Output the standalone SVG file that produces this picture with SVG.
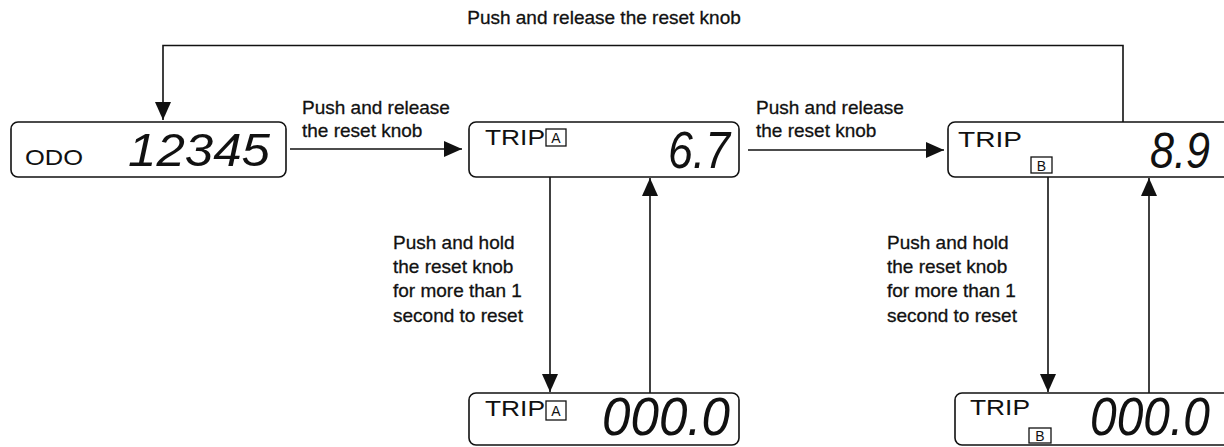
<svg xmlns="http://www.w3.org/2000/svg" width="1224" height="447" viewBox="0 0 1224 447">
<style>
.box{fill:#fff;stroke:#111;stroke-width:1.6}
.lbl{font-family:"Liberation Sans",Arial,sans-serif;font-size:19px;fill:#111;stroke:#111;stroke-width:0.3}
.trip{font-family:"Liberation Sans",Arial,sans-serif;font-size:22px;fill:#111}
.sq{fill:none;stroke:#111;stroke-width:1.3}
.sql{font-family:"Liberation Sans",Arial,sans-serif;font-size:14px;fill:#111;text-anchor:middle}
.lcd{font-family:"Liberation Sans",Arial,sans-serif;font-style:italic;fill:#111}
.ln{fill:none;stroke:#111;stroke-width:1.6}
</style>
<defs>
<marker id="ah" viewBox="0 0 18 16" refX="18" refY="8" markerWidth="18" markerHeight="16" markerUnits="userSpaceOnUse" orient="auto">
<path d="M0,0 L18,8 L0,16 Z" fill="#111"/>
</marker>
</defs>
<rect width="1224" height="447" fill="#fff"/>

<g id="connectors">
<polyline class="ln" points="1123,122 1123,45.5 163,45.5 163,120" marker-end="url(#ah)"/>
<line class="ln" x1="290" y1="149" x2="462" y2="149" marker-end="url(#ah)"/>
<line class="ln" x1="748" y1="150" x2="944" y2="150" marker-end="url(#ah)"/>
<line class="ln" x1="550" y1="177" x2="550" y2="392" marker-end="url(#ah)"/>
<line class="ln" x1="650" y1="393" x2="650" y2="178" marker-end="url(#ah)"/>
<line class="ln" x1="1048" y1="177" x2="1048" y2="392" marker-end="url(#ah)"/>
<line class="ln" x1="1149" y1="393" x2="1149" y2="178" marker-end="url(#ah)"/>
</g>

<g id="labels">
<text class="lbl" x="604" y="24" text-anchor="middle">Push and release the reset knob</text>
<text class="lbl" x="302" y="114">Push and release</text>
<text class="lbl" x="302" y="137">the reset knob</text>
<text class="lbl" x="756" y="114">Push and release</text>
<text class="lbl" x="756" y="137">the reset knob</text>
<text class="lbl" x="393" y="249">Push and hold</text>
<text class="lbl" x="393" y="273">the reset knob</text>
<text class="lbl" x="393" y="297">for more than 1</text>
<text class="lbl" x="393" y="322">second to reset</text>
<text class="lbl" x="887" y="249">Push and hold</text>
<text class="lbl" x="887" y="273">the reset knob</text>
<text class="lbl" x="887" y="297">for more than 1</text>
<text class="lbl" x="887" y="322">second to reset</text>
</g>

<g id="odo">
<rect class="box" x="11" y="122" width="275" height="55" rx="7"/>
<text class="trip" x="25" y="165" textLength="58" lengthAdjust="spacingAndGlyphs" font-size="19">ODO</text>
<text class="lcd" x="128" y="166" font-size="46" textLength="142" lengthAdjust="spacingAndGlyphs">12345</text>
</g>

<g id="tripA">
<rect class="box" x="469" y="122" width="270" height="55" rx="7"/>
<text class="trip" x="485" y="145" textLength="60" lengthAdjust="spacingAndGlyphs">TRIP</text>
<rect class="sq" x="546" y="129" width="20" height="17"/>
<text class="sql" x="556" y="143">A</text>
<text class="lcd" x="668" y="168" font-size="52" textLength="62" lengthAdjust="spacingAndGlyphs">6.7</text>
</g>

<g id="tripB">
<rect class="box" x="948" y="122" width="290" height="55" rx="7"/>
<text class="trip" x="958" y="147" textLength="64" lengthAdjust="spacingAndGlyphs">TRIP</text>
<rect class="sq" x="1031" y="157" width="21" height="16"/>
<text class="sql" x="1041.5" y="170.5">B</text>
<text class="lcd" x="1150" y="168" font-size="50" textLength="60" lengthAdjust="spacingAndGlyphs">8.9</text>
</g>

<g id="tripA0">
<rect class="box" x="469" y="393" width="270" height="52" rx="7"/>
<text class="trip" x="485" y="416" textLength="60" lengthAdjust="spacingAndGlyphs">TRIP</text>
<rect class="sq" x="546" y="401" width="20" height="19"/>
<text class="sql" x="556" y="416">A</text>
<text class="lcd" x="602" y="435" font-size="54" textLength="128" lengthAdjust="spacingAndGlyphs">000.0</text>
</g>

<g id="tripB0">
<rect class="box" x="955" y="393" width="290" height="52" rx="7"/>
<text class="trip" x="970" y="415" textLength="60" lengthAdjust="spacingAndGlyphs">TRIP</text>
<rect class="sq" x="1029" y="428" width="22" height="15"/>
<text class="sql" x="1040" y="441">B</text>
<text class="lcd" x="1090" y="435" font-size="54" textLength="120" lengthAdjust="spacingAndGlyphs">000.0</text>
</g>
</svg>
